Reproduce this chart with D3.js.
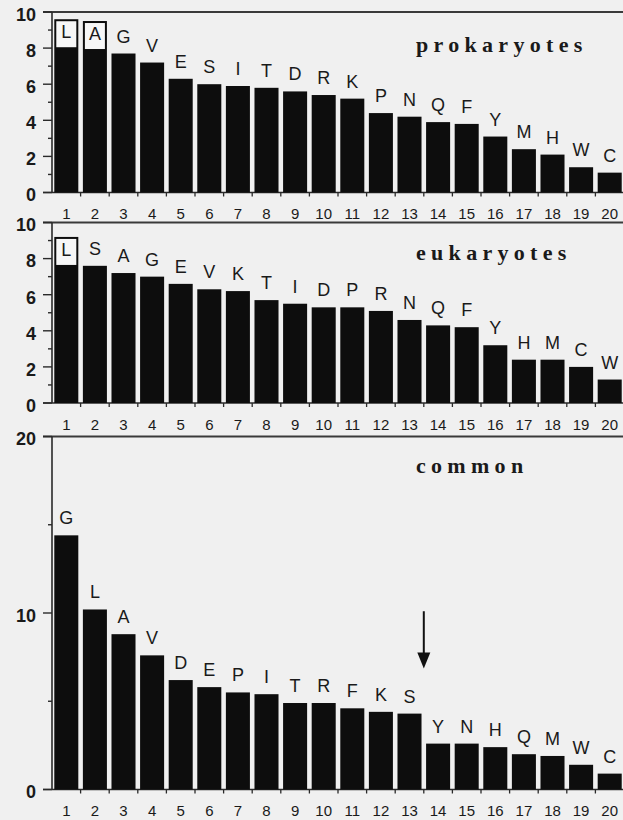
<!DOCTYPE html>
<html>
<head>
<meta charset="utf-8">
<script src="https://cdn.jsdelivr.net/npm/d3@7"></script>
<style>
  html, body { margin: 0; padding: 0; background: #f0f0f0; }
  svg { display: block; }
</style>
</head>
<body>
<svg id="chart" width="623" height="820"></svg>
<script>
// Rank positions shown under every panel
const rankLabels = ["1","2","3","4","5","6","7","8","9","10","11","12","13","14","15","16","17","18","19","20"];

// Amino-acid usage (%) ranked per group
const prokLetters = ["L","A","G","V","E","S","I","T","D","R","K","P","N","Q","F","Y","M","H","W","C"];
const prokValues  = [9.6,9.5,7.7,7.2,6.3,6.0,5.9,5.8,5.6,5.4,5.2,4.4,4.2,3.9,3.8,3.1,2.4,2.1,1.4,1.1];

const eukLetters = ["L","S","A","G","E","V","K","T","I","D","P","R","N","Q","F","Y","H","M","C","W"];
const eukValues  = [9.2,7.6,7.2,7.0,6.6,6.3,6.2,5.7,5.5,5.3,5.3,5.1,4.6,4.3,4.2,3.2,2.4,2.4,2.0,1.3];

const commonLetters = ["G","L","A","V","D","E","P","I","T","R","F","K","S","Y","N","H","Q","M","W","C"];
const commonValues  = [14.4,10.2,8.8,7.6,6.2,5.8,5.5,5.4,4.9,4.9,4.6,4.4,4.3,2.6,2.6,2.4,2.0,1.9,1.4,0.9];

// Y-axis ticks per panel
const smallTicks = [0,1,2,3,4,5,6,7,8,9,10];
const smallLabeled = [0,2,4,6,8,10];
const bigTicks = [0,5,10,15,20];
const bigLabeled = [0,10,20];

// Arrow marks the split after rank 13 in the common panel
const arrowAfterRank = "13";
const arrowFrom = 10.1, arrowTo = 6.85;

const svg = d3.select("#chart");
const left = 52, right = 624;

const x = d3.scaleBand().domain(rankLabels).range([left, right])
  .paddingInner(0.16).paddingOuter(0.08);
const step = x.step();
const boundary = r => x(r) - step * x.paddingInner() / 2;

const panels = [
  { title: "prokaryotes", letters: prokLetters, values: prokValues, max: 10,
    top: 12, bottom: 192.5, ticks: smallTicks, labeled: smallLabeled, titleY: 52 },
  { title: "eukaryotes", letters: eukLetters, values: eukValues, max: 10,
    top: 222.5, bottom: 403, ticks: smallTicks, labeled: smallLabeled, titleY: 260 },
  { title: "common", letters: commonLetters, values: commonValues, max: 20,
    top: 436.5, bottom: 789.5, ticks: bigTicks, labeled: bigLabeled, titleY: 473 }
];

const axisColor = "#2a2a2a";
const barColor = "#0d0d0d";
const sans = "'Liberation Sans', Arial, Helvetica, sans-serif";

panels.forEach((p, pi) => {
  const y = d3.scaleLinear().domain([0, p.max]).range([p.bottom, p.top]);
  const g = svg.append("g");

  // frame: top line and left axis
  g.append("line").attr("x1", left - 9).attr("x2", 623)
    .attr("y1", p.top).attr("y2", p.top)
    .attr("stroke", "#3a3a3a").attr("stroke-width", 2);
  g.append("line").attr("x1", left).attr("x2", left)
    .attr("y1", p.top).attr("y2", p.bottom)
    .attr("stroke", axisColor).attr("stroke-width", 1.6);
  g.append("line").attr("x1", left - 9).attr("x2", 623)
    .attr("y1", p.bottom).attr("y2", p.bottom)
    .attr("stroke", axisColor).attr("stroke-width", 1.6);

  // y ticks
  g.selectAll(".ytick").data(p.ticks).join("line")
    .attr("x1", d => p.labeled.includes(d) ? left - 9 : left - 4)
    .attr("x2", left)
    .attr("y1", d => y(d)).attr("y2", d => y(d))
    .attr("stroke", axisColor).attr("stroke-width", 1.4);
  g.selectAll(".ylab").data(p.labeled).join("text")
    .attr("x", 36).attr("y", d => y(d) + 2.5)
    .attr("dy", "0.35em")
    .attr("text-anchor", "end")
    .attr("font-family", sans).attr("font-weight", "bold")
    .attr("font-size", 18).attr("fill", "#1a1a1a")
    .text(d => d);

  // x boundary ticks
  g.selectAll(".xtick").data(rankLabels.slice(1)).join("line")
    .attr("x1", d => boundary(d)).attr("x2", d => boundary(d))
    .attr("y1", p.bottom).attr("y2", p.bottom + 4)
    .attr("stroke", axisColor).attr("stroke-width", 1.3);

  // rank numbers
  g.selectAll(".xlab").data(rankLabels).join("text")
    .attr("x", d => x(d) + x.bandwidth() / 2)
    .attr("y", p.bottom + 26.5)
    .attr("text-anchor", "middle")
    .attr("font-family", sans).attr("font-size", 15).attr("fill", "#1a1a1a")
    .text(d => d);

  const rows = rankLabels.map((r, i) => ({ r, v: p.values[i], letter: p.letters[i] }));

  // bars
  g.selectAll(".bar").data(rows).join("rect")
    .attr("x", d => x(d.r)).attr("width", x.bandwidth())
    .attr("y", d => y(d.v)).attr("height", d => y(0) - y(d.v))
    .attr("fill", barColor);

  // letter labels: above the bar, or boxed inside when there is no room above
  const gap = 11, cap = 13;
  rows.forEach(d => {
    const cx = x(d.r) + x.bandwidth() / 2;
    const topY = y(d.v);
    if (topY - gap - cap < p.top) {
      g.append("rect")
        .attr("x", x(d.r) + 2).attr("width", x.bandwidth() - 4)
        .attr("y", topY + 2).attr("height", 26)
        .attr("fill", "#f7f7f7");
      g.append("text")
        .attr("x", cx).attr("y", topY + 19)
        .attr("text-anchor", "middle")
        .attr("font-family", sans).attr("font-size", 18).attr("fill", "#1a1a1a")
        .text(d.letter);
    } else {
      g.append("text")
        .attr("x", cx).attr("y", topY - gap)
        .attr("text-anchor", "middle")
        .attr("font-family", sans).attr("font-size", 18).attr("fill", "#1a1a1a")
        .text(d.letter);
    }
  });

  // panel title
  g.append("text")
    .attr("x", 416).attr("y", p.titleY)
    .attr("font-family", "'Liberation Serif', 'Times New Roman', serif")
    .attr("font-weight", "bold").attr("font-size", 22)
    .attr("letter-spacing", 5.3).attr("fill", "#1a1a1a")
    .text(p.title);

  // arrow in the common panel
  if (pi === 2) {
    const ax = boundary(String(+arrowAfterRank + 1));
    const y0 = y(arrowFrom), y1 = y(arrowTo);
    g.append("line").attr("x1", ax).attr("x2", ax)
      .attr("y1", y0).attr("y2", y1 - 10)
      .attr("stroke", "#111").attr("stroke-width", 2);
    g.append("path")
      .attr("d", `M${ax - 6.5},${y1 - 16} L${ax + 6.5},${y1 - 16} L${ax},${y1} Z`)
      .attr("fill", "#111");
  }
});
</script>
</body>
</html>
